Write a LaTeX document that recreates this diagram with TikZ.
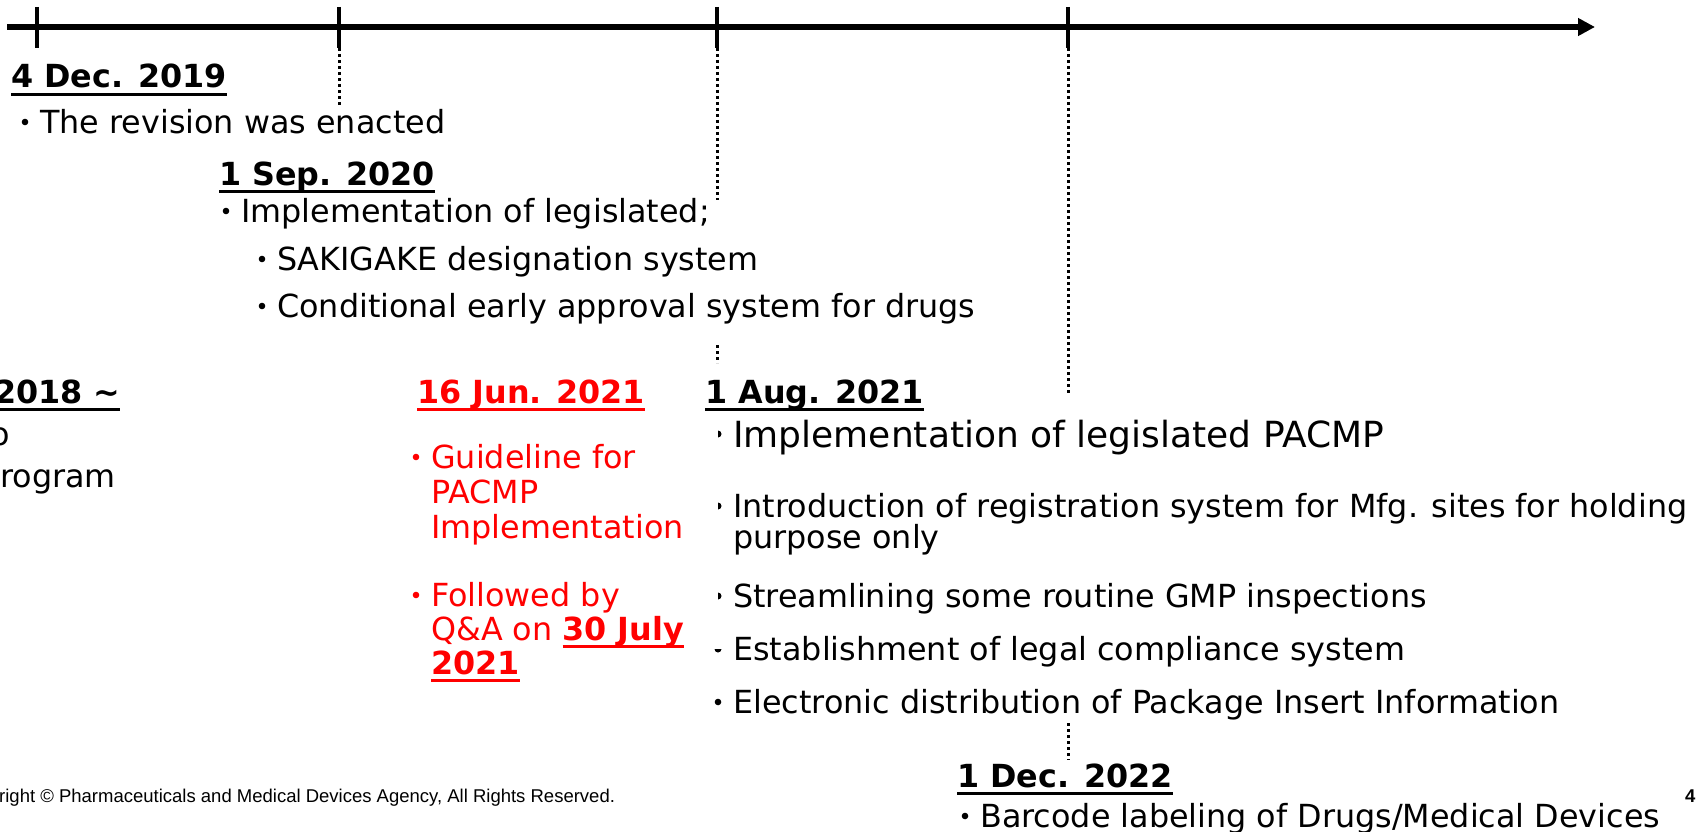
\documentclass[tikz,border=0pt]{standalone}
\usepackage{fontspec}
\setmainfont{DejaVu Sans}
\newfontfamily\footfont{Liberation Sans}
\usetikzlibrary{arrows.meta}

\definecolor{pmdared}{RGB}{255,0,0}
\newcommand{\dateul}[1]{\setbox0\hbox{#1}\rlap{\rule[-0.25em]{\wd0}{0.09em}}\box0}

\begin{document}
\begin{tikzpicture}[x=1pt,y=-1pt,
    every node/.style={inner sep=0pt,anchor=base west},
    txt/.style={font=\fontsize{31.8}{38}\selectfont},
    big/.style={font=\fontsize{36}{43}\selectfont},
    date/.style={font=\fontsize{31.8}{38}\selectfont\bfseries},
    redtxt/.style={txt,text=pmdared},
    foot/.style={font=\footfont\fontsize{18.5}{22}\selectfont},
    tick/.style={line width=3.3pt},
    dots/.style={line width=3pt,dash pattern=on 3pt off 3pt}]

\useasboundingbox (0,0) rectangle (1699,832);
\clip (0,0) rectangle (1699,832);

% time axis
\coordinate (start) at (7,27);
\coordinate (tip) at (1595,27);
\draw[line width=5.5pt,-{Triangle[length=17pt,width=17pt]}] (start) -- (tip);

\coordinate (t1top) at (37,7);    \coordinate (t1bot) at (37,48);
\coordinate (t2top) at (339,7);   \coordinate (t2bot) at (339,48);
\coordinate (t3top) at (717,7);   \coordinate (t3bot) at (717,48);
\coordinate (t4top) at (1068,7);  \coordinate (t4bot) at (1068,48);
\foreach \n in {t1,t2,t3,t4}
    \draw[tick] (\n top) -- (\n bot);

\coordinate (t2end) at (339,106);
\coordinate (t3end) at (717,200);
\coordinate (t3a) at (717,345);
\coordinate (t3b) at (717,363);
\coordinate (t4end) at (1068,395);
\coordinate (t4a) at (1068,723);
\coordinate (t4b) at (1068,760);
\draw[dots] (t2bot) -- (t2end);
\draw[dots] (t3bot) -- (t3end);
\draw[dots] (t3a) -- (t3b);
\draw[dots] (t4bot) -- (t4end);
\draw[dots] (t4a) -- (t4b);

% 2019 / 2020
\node[date] (dec19) at (11,88) {\dateul{4 Dec. 2019}};
\node[txt] (rev) at (40,133) {The revision was enacted};
\node[date] (sep20) at (219,185) {\dateul{1 Sep. 2020}};
\node[txt] (impl20) at (241,222) {Implementation of legislated;};
\node[txt] (saki) at (277,270) {SAKIGAKE designation system};
\node[txt] (cond) at (277,317) {Conditional early approval system for drugs};

% cut off at the left edge
\node[date] (apr18) at (-6,403) {\dateul{2018 \textasciitilde}};
\node[txt] (trial) at (-10,445) {o};
\node[txt] (prog) at (0,487) {rogram};

% guideline
\node[date,text=pmdared] (jun21) at (417,403) {\dateul{16 Jun. 2021}};
\node[redtxt] (guide) at (431,468) {Guideline for};
\node[redtxt] (gpac) at (431,503) {PACMP};
\node[redtxt] (gimp) at (431,538) {Implementation};
\node[redtxt] (foll) at (431,606) {Followed by};
\node[redtxt] (qa) at (431,640) {Q\&A on \textbf{\dateul{30 July}}};
\node[redtxt] (qa2) at (431,674) {\textbf{\dateul{2021}}};

% 2021 / 2022
\node[date] (aug21) at (705,403) {\dateul{1 Aug. 2021}};
\node[big] (pacmp) at (733,447) {Implementation of legislated PACMP};
\node[txt] (reg) at (733,517) {Introduction of registration system for Mfg. sites for holding};
\node[txt] (reg2) at (733,548) {purpose only};
\node[txt] (gmp) at (733,607) {Streamlining some routine GMP inspections};
\node[txt] (legal) at (733,660) {Establishment of legal compliance system};
\node[txt] (pkg) at (733,713) {Electronic distribution of Package Insert Information};
\node[date] (dec22) at (957,787) {\dateul{1 Dec. 2022}};
\node[txt] (bar) at (980,827) {Barcode labeling of Drugs/Medical Devices};

% bullets
\foreach \n in {rev,impl20,saki,cond,pkg,bar}
    \fill ([shift={(-15,-11)}]\n.base west) circle (3.3);
\foreach \n in {guide,foll}
    \fill[pmdared] ([shift={(-15,-11)}]\n.base west) circle (3.3);
\fill ([shift={(-15,-13)}]pacmp.base west) ++(0,3.5) arc (90:-90:3.5) -- cycle;
\foreach \n in {reg,gmp}
    \fill ([shift={(-15,-11)}]\n.base west) ++(0,3.5) arc (90:-90:3.5) -- cycle;
\fill ([shift={(-15,-11)}]legal.base west) ++(-3.5,0) arc (180:0:3.5) -- cycle;

% footer
\node[foot] (copy) at (-1,802) {right \textcopyright{} Pharmaceuticals and Medical Devices Agency, All Rights Reserved.};
\node[foot] (page) at (1685,802) {\bfseries 4};

\end{tikzpicture}
\end{document}
